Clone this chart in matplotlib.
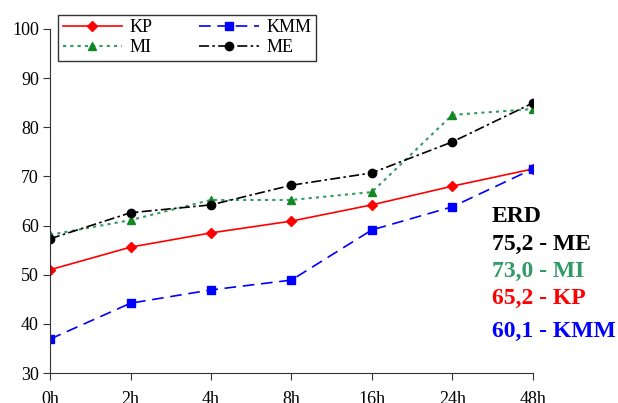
import matplotlib
matplotlib.use("Agg")
import matplotlib.pyplot as plt

plt.rcParams['font.family'] = ['Liberation Serif', 'DejaVu Serif']

# Time points and series values
times = ["0h", "2h", "4h", "8h", "16h", "24h", "48h"]
kp = [51.0, 55.6, 58.5, 60.9, 64.2, 68.0, 71.5]
kmm = [36.9, 44.2, 46.9, 48.9, 59.1, 63.8, 71.5]
mi = [58.1, 61.1, 65.2, 65.2, 66.8, 82.5, 83.7]
me = [57.3, 62.6, 64.2, 68.2, 70.7, 77.0, 84.9]

erd_labels = ["75,2 - ME", "73,0 - MI", "65,2 - KP", "60,1 - KMM"]
erd_colors = ["black", "#339966", "red", "blue"]

fig = plt.figure(figsize=(6.18, 4.03), dpi=100)
ax = fig.add_axes([0.081, 0.0744, 0.781, 0.854])

x = list(range(len(times)))
l_kp, = ax.plot(x, kp, color="red", lw=1.2, marker="D", ms=5, label="KP")
l_kmm, = ax.plot(x, kmm, color="blue", lw=1.2, ls=(0, (7, 4)), marker="s", ms=6, label="KMM")
l_mi, = ax.plot(x, mi, color="#339966", lw=1.5, ls=(0, (1.5, 2)), marker="^", ms=6,
                mfc="#118822", mec="#118822", label="MI")
l_me, = ax.plot(x, me, color="black", lw=1.2, ls=(0, (6, 2, 1.5, 2)), marker="o", ms=6, label="ME")

ax.set_xlim(0, 6)
ax.set_ylim(30, 100)
ax.set_xticks(x)
ax.set_xticklabels(times)
ax.set_yticks(range(30, 101, 10))
ax.tick_params(labelsize=13, direction="out", length=5, color="#333333", pad=8)
ax.tick_params(axis="y", pad=3)
for side in ["top", "right"]:
    ax.spines[side].set_visible(False)
for side in ["left", "bottom"]:
    ax.spines[side].set_color("#333333")

leg = fig.legend([l_kp, l_mi, l_kmm, l_me], ["KP", "MI", "KMM", "ME"], ncol=2,
                 loc="upper left", bbox_to_anchor=(0.094, 0.963), borderaxespad=0,
                 fontsize=13, frameon=True, fancybox=False, edgecolor="black",
                 handlelength=3.3, columnspacing=2.6, labelspacing=0.15,
                 borderpad=0.25, handletextpad=0.4)
leg.get_frame().set_linewidth(1.0)

fig.text(0.796, 0.450, "ERD", fontsize=17, fontweight="bold", color="black")
ys = [0.380, 0.313, 0.246, 0.163]
for lbl, c, yy in zip(erd_labels, erd_colors, ys):
    fig.text(0.796, yy, lbl, fontsize=17, fontweight="bold", color=c)

fig.savefig("out.png", dpi=100)
